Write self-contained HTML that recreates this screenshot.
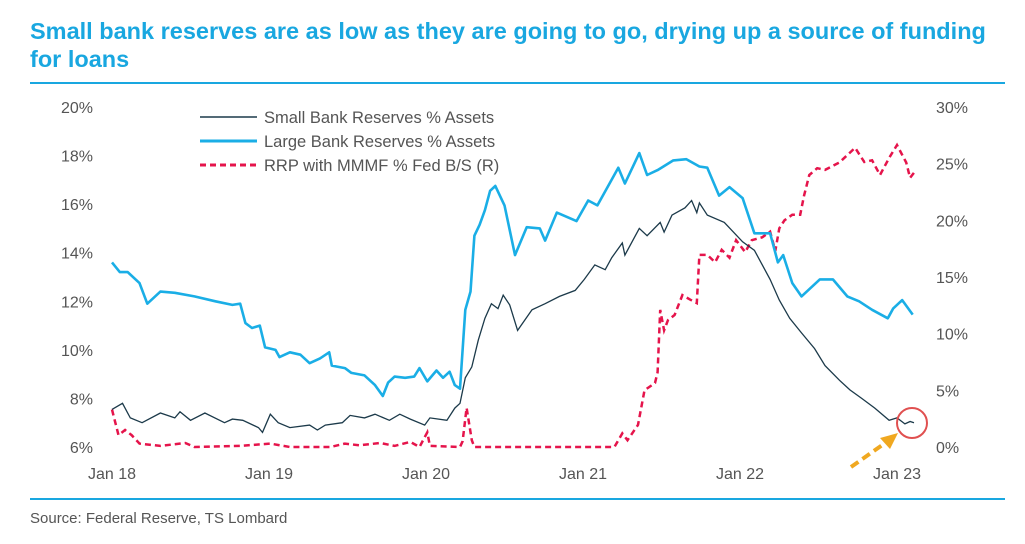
<!DOCTYPE html>
<html><head><meta charset="utf-8"><style>
body{margin:0;background:#fff;font-family:"Liberation Sans",sans-serif}
#c{position:relative;width:1025px;height:544px;overflow:hidden}
.t{position:absolute;left:30px;top:17px;width:970px;color:#19a7e0;font-weight:bold;font-size:23.5px;line-height:28px}
.src{position:absolute;left:30px;top:510px;font-size:15px;color:#555}
</style></head><body>
<div id="c">
<div class="t">Small bank reserves are as low as they are going to go, drying up a source of funding for loans</div>
<svg id="s" width="1025" height="544" style="position:absolute;left:0;top:0"></svg>
<div class="src">Source: Federal Reserve, TS Lombard</div>
</div>
<script>
// months since Jan 2018
const largeM=[0,0.6,1.2,2.1,2.7,3.7,4.8,6.3,7.9,9.2,9.8,10.2,10.7,11.3,11.7,12.5,12.8,13.6,14.4,15.1,15.9,16.6,16.8,17.8,18.3,19.3,20.1,20.7,21.1,21.6,22.4,23.1,23.5,24.1,24.8,25.3,25.8,26.2,26.6,27.0,27.4,27.7,28.1,28.5,28.9,29.3,30.0,30.8,31.7,32.7,33.1,34.0,35.5,36.4,37.1,38.7,39.2,40.3,40.9,41.7,42.9,43.9,44.9,45.5,46.4,47.2,48.2,49.1,50.3,50.9,51.3,52.0,52.7,54.1,55.1,56.2,57.1,58.1,59.3,59.7,60.4,61.2];
const largeV=[13.6,13.2,13.2,12.75,11.9,12.4,12.35,12.2,12.0,11.85,11.9,11.1,10.9,11.0,10.1,10.0,9.7,9.9,9.8,9.45,9.65,9.9,9.35,9.25,9.05,8.95,8.55,8.1,8.65,8.9,8.85,8.9,9.25,8.7,9.15,8.85,9.1,8.55,8.4,11.65,12.4,14.7,15.15,15.75,16.55,16.75,15.95,13.9,15.05,15.0,14.5,15.65,15.3,16.15,15.95,17.5,16.85,18.1,17.2,17.4,17.8,17.85,17.55,17.5,16.35,16.7,16.25,14.8,14.8,13.6,13.9,12.75,12.2,12.9,12.9,12.2,12.0,11.65,11.3,11.7,12.05,11.45];
const smallM=[0,0.8,1.4,2.3,3.7,4.8,5.2,6.0,7.1,8.6,9.2,10.0,11.2,11.5,12.1,12.7,13.6,15.1,15.7,16.3,17.6,18.2,19.3,20.1,21.2,22.0,22.8,23.9,24.3,25.6,26.2,26.6,27.0,27.5,28.0,28.5,29.0,29.5,29.9,30.4,31.0,32.1,33.1,34.2,35.4,36.1,36.9,37.7,38.2,39.0,39.2,40.3,40.9,41.9,42.2,42.8,43.8,44.3,44.7,44.9,45.5,46.8,48.2,49.1,50.3,51.0,51.8,52.7,53.7,54.5,55.6,56.4,57.3,58.3,59.4,60.0,60.6,61.0,61.3];
const smallV=[7.55,7.8,7.2,7.0,7.4,7.2,7.45,7.1,7.4,7.0,7.15,7.1,6.8,6.6,7.35,7.0,6.8,6.9,6.7,6.9,7.0,7.3,7.2,7.35,7.1,7.35,7.15,6.9,7.2,7.1,7.6,7.8,8.85,9.3,10.4,11.3,11.9,11.7,12.25,11.85,10.8,11.65,11.9,12.2,12.45,12.9,13.5,13.3,13.8,14.4,13.9,15.0,14.7,15.25,14.85,15.55,15.85,16.15,15.65,16.05,15.55,15.25,14.45,14.1,12.9,12.05,11.3,10.7,10.05,9.35,8.75,8.35,8.0,7.6,7.1,7.2,6.95,7.05,7.0];
const rrpM=[0,0.5,1.0,1.5,2.1,3.7,5.6,6.3,9.8,12.1,13.6,16.7,17.8,18.9,20.5,21.6,22.8,23.5,24.1,24.3,26.6,26.8,27.1,27.5,27.7,38.4,39.0,39.4,40.2,40.7,41.5,41.7,41.9,42.2,42.5,43.0,43.6,44.2,44.7,44.9,45.5,46.1,46.6,47.2,47.7,48.4,48.9,49.7,50.3,50.7,51.0,51.4,52.0,52.6,52.9,53.3,53.9,54.5,55.6,56.8,57.5,58.1,58.7,59.4,60.0,60.7,61.0,61.3];
const rrpV=[3.3,1.05,1.5,1.05,0.3,0.1,0.35,0,0.1,0.3,0,0,0.3,0.15,0.35,0.1,0.45,0,1.3,0.1,0,0.5,3.45,0.6,0,0,1.2,0.6,1.95,5.0,5.65,6.6,12.1,10.3,11.2,11.65,13.4,13.0,12.7,16.95,16.95,16.3,17.4,16.7,18.25,17.2,18.25,18.5,19.0,17.3,19.3,20.0,20.5,20.5,22.2,24.0,24.6,24.45,25.1,26.4,25.15,25.3,24.0,25.5,26.65,25.1,23.75,24.2];
const leftTicks=["6%","8%","10%","12%","14%","16%","18%","20%"];
const leftVals=[6,8,10,12,14,16,18,20];
const rightTicks=["0%","5%","10%","15%","20%","25%","30%"];
const rightVals=[0,5,10,15,20,25,30];
const xTicks=["Jan 18","Jan 19","Jan 20","Jan 21","Jan 22","Jan 23"];
const xVals=[0,12,24,36,48,60];
const legendLabels=["Small Bank Reserves % Assets","Large Bank Reserves % Assets","RRP with MMMF % Fed B/S (R)"];

const NS="http://www.w3.org/2000/svg",svg=document.getElementById('s');
const X=m=>112+m*157/12, YL=v=>447-(v-6)*340/14, YR=v=>447-v*340/30;
function mk(t,a){const e=document.createElementNS(NS,t);for(const k in a)e.setAttribute(k,a[k]);svg.appendChild(e);return e;}
let e;
e=mk('line',{x1:30,x2:1005,y1:83,y2:83,stroke:'#19a7e0','stroke-width':2});


e=mk('line',{x1:30,x2:1005,y1:499,y2:499,stroke:'#19a7e0','stroke-width':2});


leftVals.forEach((v,i)=>{const t=mk('text',{x:93,y:YL(v)+6,'text-anchor':'end','font-size':16,fill:'#555'});t.textContent=leftTicks[i];

});
rightVals.forEach((v,i)=>{const t=mk('text',{x:936,y:YR(v)+6,'font-size':16,fill:'#555'});t.textContent=rightTicks[i];

});
xVals.forEach((v,i)=>{const t=mk('text',{x:X(v),y:479,'text-anchor':'middle','font-size':16,fill:'#555'});t.textContent=xTicks[i];

});
function path(ms,vs,yf){return ms.map((m,i)=>(i?'L':'M')+X(m).toFixed(1)+','+yf(vs[i]).toFixed(1)).join('');}
e=mk('path',{d:path(rrpM,rrpV,YR),fill:'none',stroke:'#e5144b','stroke-width':2.5,'stroke-dasharray':'6 4'});


e=mk('path',{d:path(largeM,largeV,YL),fill:'none',stroke:'#1aaee6','stroke-width':2.6,'stroke-linejoin':'round'});


e=mk('path',{d:path(smallM,smallV,YL),fill:'none',stroke:'#1c3a4a','stroke-width':1.3});


// legend
const lc=['#1c3a4a','#1aaee6','#e5144b'],lw=[1.5,3,3];
legendLabels.forEach((l,i)=>{const y=117+i*24;
const ln=mk('line',{x1:200,x2:257,y1:y,y2:y,stroke:lc[i],'stroke-width':lw[i]});
if(i==2)ln.setAttribute('stroke-dasharray','6 4');


const t=mk('text',{x:264,y:y+6,'font-size':16.5,fill:'#555'});t.textContent=l;

});
// annotation
e=mk('circle',{cx:912,cy:423,r:15,fill:'none',stroke:'#e05050','stroke-width':2});


e=mk('line',{x1:851,y1:467,x2:888,y2:441,stroke:'#f0a820','stroke-width':4,'stroke-dasharray':'9 5'});


e=mk('polygon',{points:'898,433 880,438 890,449',fill:'#f0a820'});


</script>
</body></html>
